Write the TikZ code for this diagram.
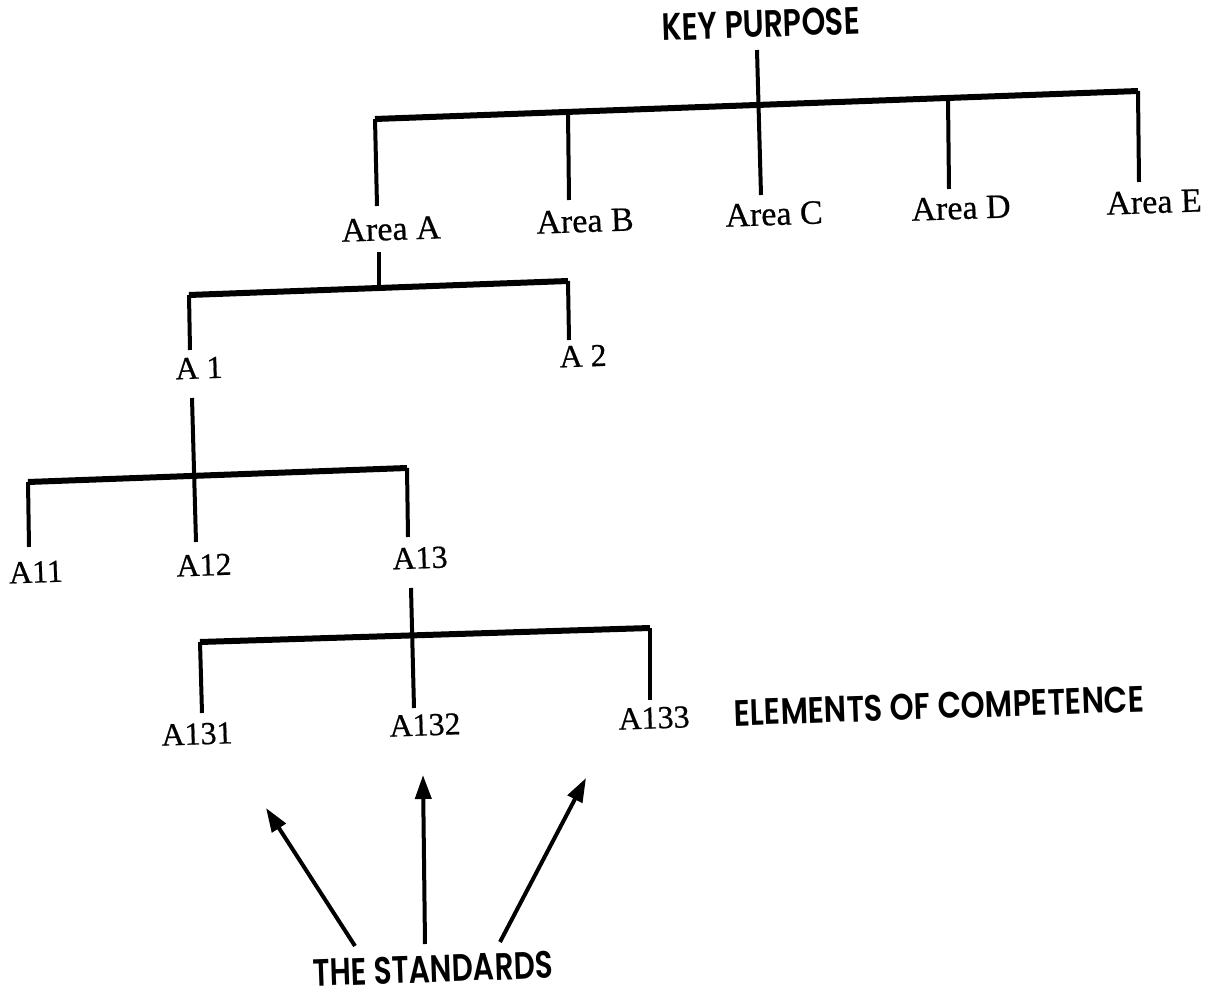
\documentclass[tikz,border=0pt]{standalone}
\usepackage{graphicx}
\usepackage{fontspec}
\setmainfont{Liberation Serif}[FakeBold=0.6]
\newfontfamily\capsfont{Poppins SemiBold}
\usetikzlibrary{arrows.meta}
\begin{document}
\begin{tikzpicture}[x=1pt,y=-1pt,
  lbl/.style={inner sep=0pt, rotate=2, font=\fontsize{34}{37}\selectfont},
  sub/.style={inner sep=0pt, rotate=2, font=\fontsize{32}{35}\selectfont},
  caplbl/.style={inner sep=0pt, rotate=2},
  stem/.style={line width=4pt, line cap=butt},
  bar/.style={line width=6pt, line cap=square},
  arr/.style={line width=4pt, -{Triangle[length=24pt,width=16pt]}}]
\fill[white] (0,0) rectangle (1208,1000);
\useasboundingbox (0,0) rectangle (1208,1000);

% ---------- text nodes ----------
\node[caplbl] (kp) at (761,24) {\resizebox{198pt}{27pt}{\capsfont KEY PURPOSE}};
\node[lbl] (aA) at (391,229) {Area A};
\node[lbl] (aB) at (585,221) {Area B};
\node[lbl] (aC) at (774,214) {Area C};
\node[lbl] (aD) at (961,208) {Area D};
\node[lbl] (aE) at (1154,202) {Area E};
\node[sub] (a1) at (199,368) {A 1};
\node[sub] (a2) at (583,356) {A 2};
\node[sub] (a11) at (36,572) {A11};
\node[sub] (a12) at (204,565) {A12};
\node[sub] (a13) at (420,558) {A13};
\node[sub] (a131) at (197,734) {A131};
\node[sub] (a132) at (425,725) {A132};
\node[sub] (a133) at (654,718) {A133};
\node[caplbl] (eoc) at (939,706) {\resizebox{410pt}{26pt}{\capsfont ELEMENTS OF COMPETENCE}};
\node[caplbl] (std) at (433,969) {\resizebox{240pt}{27pt}{\capsfont THE STANDARDS}};

% ---------- coordinates ----------
\coordinate (kpS) at (757,50);
\coordinate (cN) at (761,195);
\coordinate (bL) at (375,119);
\coordinate (bR) at (1138,91);
\coordinate (bB) at (568,112);
\coordinate (bD) at (948,98);
\coordinate (aAn) at (377,206);
\coordinate (aBn) at (569,200);
\coordinate (aDn) at (949,189);
\coordinate (aEn) at (1139,182);

\coordinate (aAs) at (379,252);
\coordinate (aAj) at (379,290);
\coordinate (b2L) at (189,295);
\coordinate (b2R) at (568,281);
\coordinate (a1n) at (190,350);
\coordinate (a2n) at (569,340);

\coordinate (a1s) at (192,398);
\coordinate (a12n) at (196,542);
\coordinate (b3L) at (28,482);
\coordinate (b3R) at (407,468);
\coordinate (a11n) at (29,547);
\coordinate (a13n) at (408,537);

\coordinate (a13s) at (411,588);
\coordinate (a132n) at (414,708);
\coordinate (b4L) at (200,642);
\coordinate (b4R) at (650,628);
\coordinate (a131n) at (202,713);
\coordinate (a133n) at (650,700);

\coordinate (s1) at (355,946);
\coordinate (s2) at (425,944);
\coordinate (s3) at (500,942);
\coordinate (t1) at (266,808);
\coordinate (t2) at (423,775);
\coordinate (t3) at (586,778);

% ---------- level 1 ----------
\draw[bar] (bL) -- (bR);
\draw[stem] (kpS) -- (cN);
\draw[stem] (bL) -- (aAn);
\draw[stem] (bB) -- (aBn);
\draw[stem] (bD) -- (aDn);
\draw[stem] (bR) -- (aEn);

% ---------- level 2 ----------
\draw[bar] (b2L) -- (b2R);
\draw[stem] (aAs) -- (aAj);
\draw[stem] (b2L) -- (a1n);
\draw[stem] (b2R) -- (a2n);

% ---------- level 3 ----------
\draw[bar] (b3L) -- (b3R);
\draw[stem] (a1s) -- (a12n);
\draw[stem] (b3L) -- (a11n);
\draw[stem] (b3R) -- (a13n);

% ---------- level 4 ----------
\draw[bar] (b4L) -- (b4R);
\draw[stem] (a13s) -- (a132n);
\draw[stem] (b4L) -- (a131n);
\draw[stem] (b4R) -- (a133n);

% ---------- arrows ----------
\draw[arr] (s1) -- (t1);
\draw[arr] (s2) -- (t2);
\draw[arr] (s3) -- (t3);
\end{tikzpicture}
\end{document}
